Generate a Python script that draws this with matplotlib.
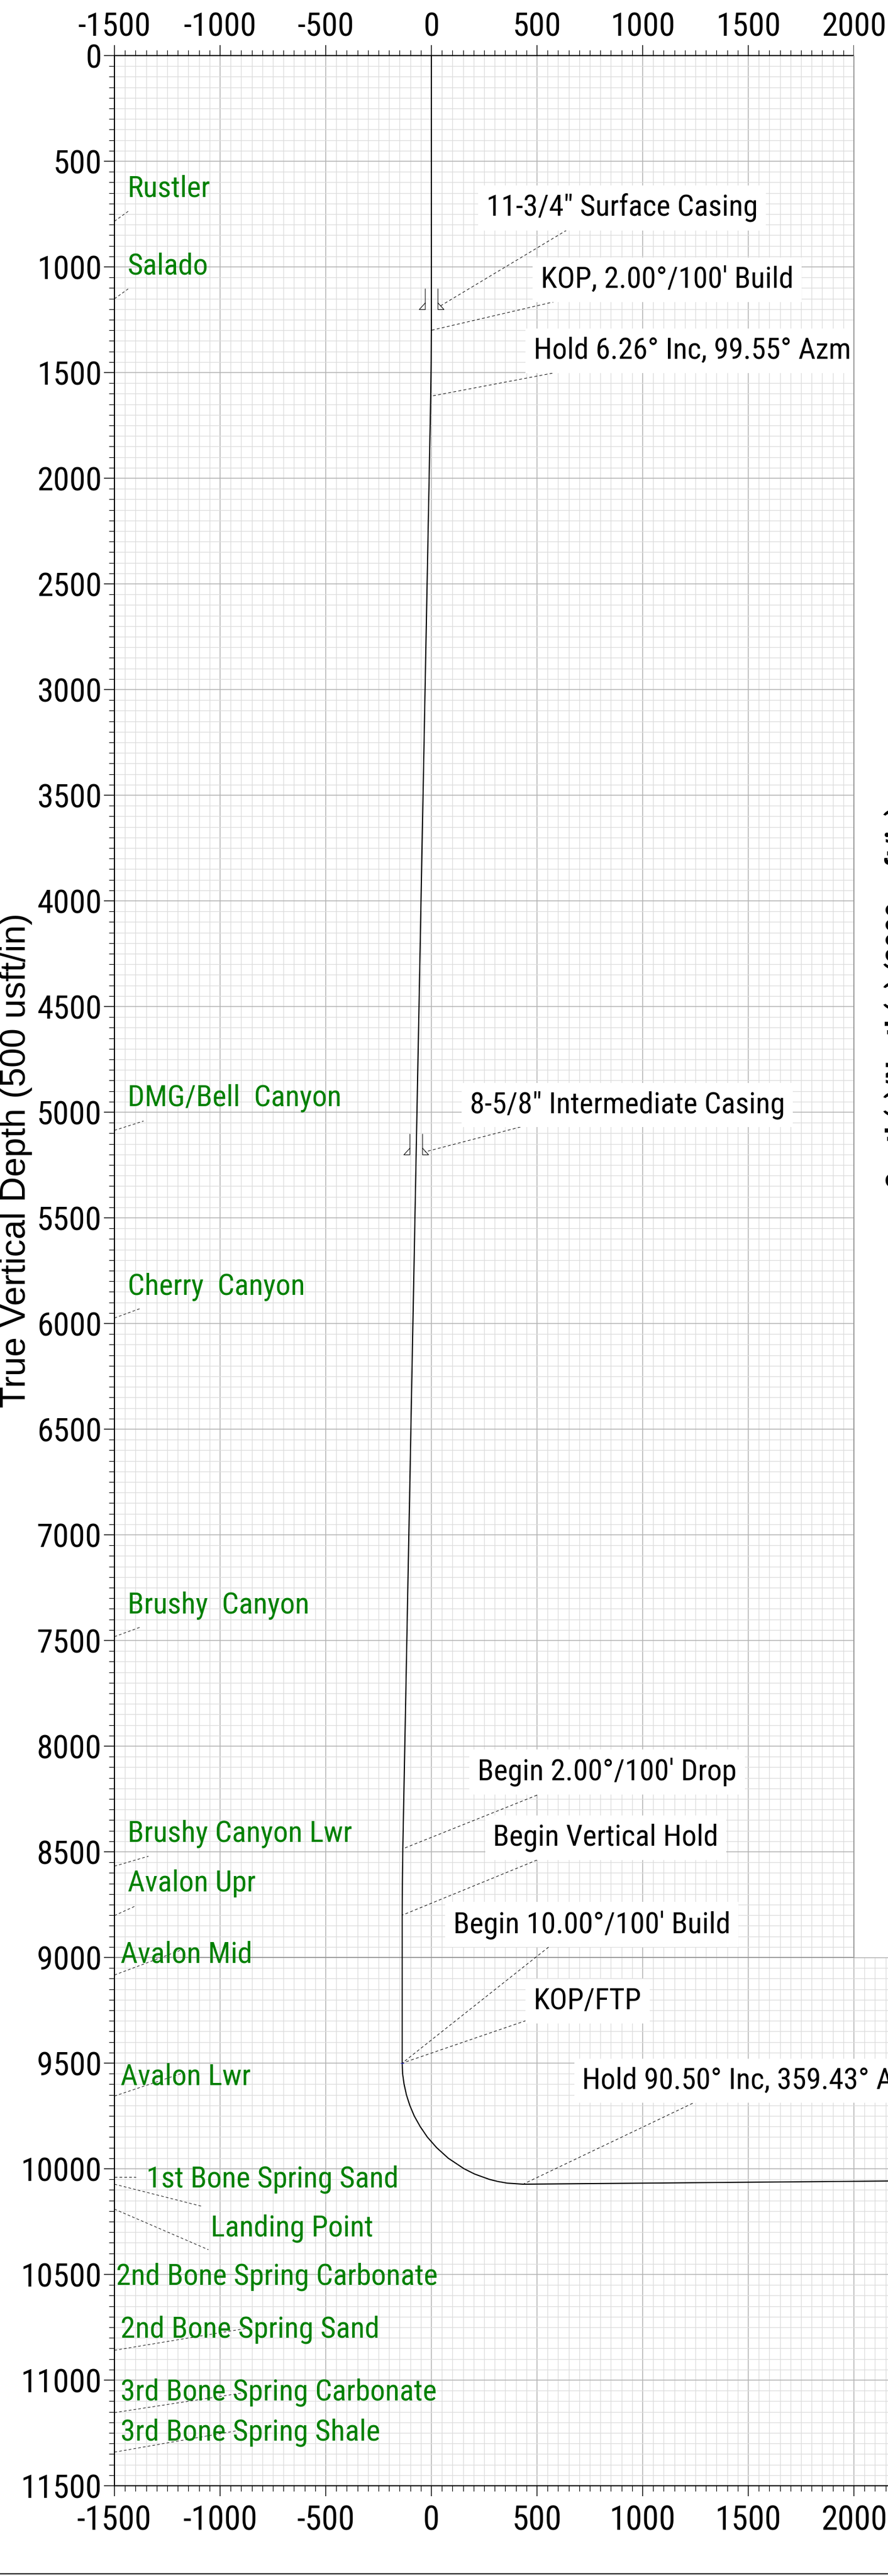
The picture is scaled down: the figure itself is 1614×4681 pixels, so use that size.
import matplotlib
matplotlib.use("Agg")
import matplotlib.pyplot as plt
from matplotlib import font_manager as fm
from matplotlib.path import Path
from matplotlib.patches import Rectangle
from matplotlib.lines import Line2D
from matplotlib.ticker import MultipleLocator, FormatStrFormatter

# ---------------------------------------------------------------- data
# well path: vertical section (usft) and true vertical depth (usft)
path_vs = [0, 0, -1, -3, -135, -137, -138, -138, -136, -129, -118, -102, -81,
           -53, -19, 25, 80, 155, 205, 274, 314, 359, 434, 2160]
path_tvd = [0, 1300, 1456, 1612, 8487, 8643, 8800, 9500, 9550, 9600, 9650, 9700,
            9750, 9800, 9850, 9900, 9950, 10000, 10025, 10050, 10060, 10068,
            10073, 10058]

# casing shoes
casing_vs = [0, -72]
casing_tvd = [1200, 5200]

# first take point marker
ftp_vs = [-138]
ftp_tvd = [9500]

# design annotations (text, point on well the leader goes to)
annot_text = ['11-3/4" Surface Casing', "KOP, 2.00\u00b0/100' Build",
              "Hold 6.26\u00b0 Inc, 99.55\u00b0 Azm", '8-5/8" Intermediate Casing',
              "Begin 2.00\u00b0/100' Drop", "Begin Vertical Hold",
              "Begin 10.00\u00b0/100' Build", "KOP/FTP",
              "Hold 90.50\u00b0 Inc, 359.43\u00b0 Azm"]
annot_vs = [34, 0, -3, -31, -138, -138, -138, -138, 434]
annot_tvd = [1190, 1300, 1612, 5188, 8487, 8800, 9500, 9500, 10073]

# formation tops
form_names = ["Rustler", "Salado", "DMG/Bell  Canyon", "Cherry  Canyon",
              "Brushy  Canyon", "Brushy Canyon Lwr", "Avalon Upr", "Avalon Mid",
              "Avalon Lwr", "1st Bone Spring Sand", "Landing Point",
              "2nd Bone Spring Carbonate", "2nd Bone Spring Sand",
              "3rd Bone Spring Carbonate", "3rd Bone Spring Shale"]
form_tvd = [784, 1151, 5086, 5974, 7482, 8568, 8802, 9083, 9656, 10039, 10073,
            10191, 10859, 11154, 11341]

# axis ranges / tick spacing
x_range = (-1500, 2500)
y_range = (11500, 0)
major_step = 500
minor_step = 50

# ---------------------------------------------------------------- layout
# annotation label anchor (left, baseline) and leader start, data units
annot_lab_x = [260, 518, 484, 182, 219, 292, 104, 484, 714]
annot_lab_y = [760, 1099, 1435, 5003, 8161, 8471, 8883, 9245, 9622]
annot_lead_x = [641, 586, 573, 422, 500, 500, 555, 448, 1237]
annot_lead_y = [826, 1164, 1503, 5070, 8232, 8539, 8951, 9299, 9690]

form_lab_x = [-1437, -1437, -1437, -1437, -1437, -1437, -1437, -1471, -1471,
              -1349, -1044, -1492, -1471, -1471, -1471]
form_lab_y = [669, 1036, 4971, 5862, 7370, 8453, 8688, 9026, 9604, 10086, 10320,
              10547, 10797, 11094, 11284]
form_lead_x = [-1435, -1435, -1362, -1372, -1372, -1339, -1404, -1182, -1182,
               -1398, -1089, -1055, -862, -888, -888]
form_lead_y = [737, 1104, 5042, 5927, 7435, 8521, 8758, 8964, 9549, 10039, 10177,
               10383, 10753, 11060, 11234]

panel_vs = 2000
panel_tvd = 9000

# ---------------------------------------------------------------- fonts
names = {f.name for f in fm.fontManager.ttflist}
BASE = "Liberation Sans"
SC_ANN, SC_FORM, SC_TICK = 0.84, 0.84, 0.9
for cand in ("Liberation Sans Narrow", "Arial Narrow", "Roboto Condensed",
             "Open Sans Condensed", "Nimbus Sans Narrow"):
    if cand in names:
        BASE = cand
        SC_ANN, SC_FORM, SC_TICK = 0.95, 0.98, 1.0
        break
plt.rcParams["font.family"] = [BASE, "Liberation Sans", "DejaVu Sans"]
plt.rcParams["axes.unicode_minus"] = False

W, H, DPI = 1615, 4681, 100
PT = 72.0 / DPI
GREEN = "#008000"

fig = plt.figure(figsize=(W / DPI, H / DPI), dpi=DPI)
fig.patch.set_facecolor("white")
ax = fig.add_axes([208 / W, (H - 4517) / H, 1536 / W, 4416 / H])
ax.set_xlim(*x_range)
ax.set_ylim(*y_range)

for axis in (ax.xaxis, ax.yaxis):
    axis.set_major_locator(MultipleLocator(major_step))
    axis.set_minor_locator(MultipleLocator(minor_step))
    axis.set_major_formatter(FormatStrFormatter("%d"))

ax.grid(True, which="minor", color="#dcdcdc", lw=1.3 * PT)
ax.grid(True, which="major", color="#b4b4b4", lw=1.6 * PT)
ax.tick_params(which="major", length=19 * PT, width=1.5 * PT, direction="out")
ax.tick_params(which="minor", length=10 * PT, width=1.2 * PT, direction="out")
ax.tick_params(axis="x", which="major", labelsize=44 * SC_TICK, pad=11)
ax.tick_params(axis="y", which="major", labelsize=43 * SC_TICK, pad=3)
ax.tick_params(which="both", right=False, top=False)
ax.spines["top"].set_visible(False)
ax.spines["right"].set_visible(False)
ax.spines["left"].set_linewidth(2 * PT)
ax.spines["bottom"].set_linewidth(2.2 * PT)

ax.set_ylabel("True Vertical Depth (500 usft/in)", fontsize=46,
              family=["Liberation Sans", "DejaVu Sans"],
              va="baseline", ha="center", rotation=90, rotation_mode="anchor")
ax.yaxis.set_label_coords((46 - 208) / 1536, (4517 - 2109) / 4416)

# horizontal frame line at panel depth
ax.axhline(panel_tvd, color="#9a9a9a", lw=2 * PT, zorder=1.6)

# well path
ax.plot(path_vs, path_tvd, color="black", lw=1.5, zorder=4, solid_joinstyle="round")

# casing symbols
cas_verts = [(-11.5, 38), (-11.5, 0), (-22.5, 0), (-11.5, 12),
             (11.5, 38), (11.5, 0), (22.5, 0), (11.5, 12)]
cas_codes = [Path.MOVETO, Path.LINETO, Path.LINETO, Path.LINETO] * 2
cas_marker = Path(cas_verts, cas_codes)
ax.plot(casing_vs, casing_tvd, ls="none", marker=cas_marker, ms=76 * PT,
        mfc="none", mec="black", mew=0.8, zorder=4)
ax.plot(ftp_vs, ftp_tvd, ls="none", marker="_", ms=5, mec="#2020c0", mew=1, zorder=5)

dash = (0, (5, 4))
for txt, vx, vy, lx, ly, sx, sy in zip(annot_text, annot_vs, annot_tvd,
                                        annot_lab_x, annot_lab_y,
                                        annot_lead_x, annot_lead_y):
    ax.plot([sx, vx], [sy, vy], color="black", lw=0.75, ls=dash, zorder=3)
    ax.text(lx, ly, txt, ha="left", va="baseline", fontsize=41 * SC_ANN,
            color="black", zorder=5,
            bbox=dict(boxstyle="square,pad=0.27", facecolor="white",
                      edgecolor="none"))

for name, t, lx, ly, ex, ey in zip(form_names, form_tvd, form_lab_x, form_lab_y,
                                   form_lead_x, form_lead_y):
    ax.plot([x_range[0], ex], [t, ey], color="black", lw=0.7, ls=dash, zorder=3)
    ax.text(lx, ly, name, ha="left", va="baseline", fontsize=40 * SC_FORM,
            color=GREEN, zorder=5)

# top axis (twin) with the covering panel
ax2 = ax.twiny()
ax2.set_xlim(*x_range)
ax2.xaxis.set_major_locator(MultipleLocator(major_step))
ax2.xaxis.set_minor_locator(MultipleLocator(minor_step))
ax2.xaxis.set_major_formatter(FormatStrFormatter("%d"))
ax2.tick_params(which="major", length=19 * PT, width=1.5 * PT, direction="out")
ax2.tick_params(which="minor", length=10 * PT, width=1.2 * PT, direction="out")
ax2.tick_params(axis="x", which="major", labelsize=43 * SC_TICK, pad=3)
ax2.tick_params(axis="x", which="both", top=True, bottom=False,
                labeltop=True, labelbottom=False)
for s in ("left", "right", "bottom"):
    ax2.spines[s].set_visible(False)
ax2.spines["top"].set_linewidth(2.2 * PT)

ax2.add_patch(Rectangle((panel_vs, panel_tvd), 1000, -(panel_tvd + 68),
                        facecolor="white", edgecolor="none", zorder=3,
                        clip_on=False))
ax2.plot([panel_vs, panel_vs], [0, panel_tvd], color="#9a9a9a", lw=2 * PT,
         zorder=3.5)

# clipped rotated label of the neighbouring panel
fig.text(1649 / W, (H - 1812) / H, "South(-)/North(+) (2000 usft/in)",
         rotation=90, rotation_mode="anchor", ha="center", va="baseline",
         fontsize=41 * SC_ANN, weight="bold", color="black")

# page frame line at the bottom
fig.add_artist(Line2D([0, 1], [4 / H, 4 / H], transform=fig.transFigure,
                      color="black", lw=1.5))

fig.savefig("out.png", dpi=DPI)
